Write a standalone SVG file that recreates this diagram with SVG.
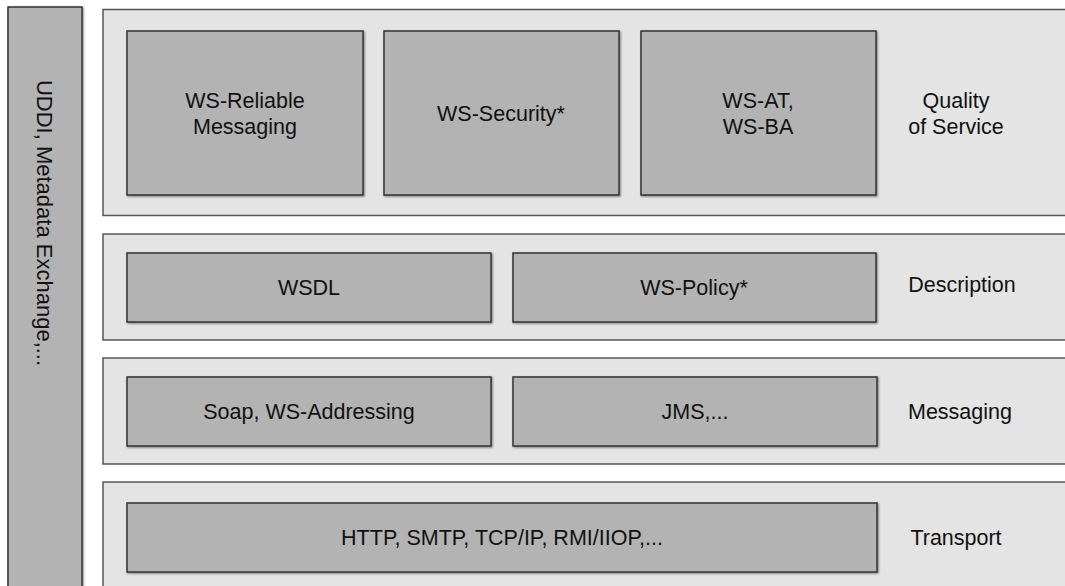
<svg xmlns="http://www.w3.org/2000/svg" width="1065" height="586" viewBox="0 0 1065 586">
<defs>
<filter id="sh" x="-5%" y="-5%" width="110%" height="110%">
<feDropShadow dx="1" dy="1" stdDeviation="0.8" flood-color="#000" flood-opacity="0.45"/>
</filter>
<style>
.panel{fill:#e3e4e3;stroke:#555;stroke-width:1.5}
.box{fill:#b3b3b3;stroke:#333;stroke-width:1.5;filter:url(#sh)}
.t{font-family:"Liberation Sans",Arial,sans-serif;font-size:21.5px;fill:#111;text-anchor:middle}
</style>
</defs>
<rect width="1065" height="586" fill="#fff"/>
<g id="uddi">
<rect class="box" x="8" y="7" width="74" height="600"/>
<text class="t" style="font-size:22px" transform="translate(37,223) rotate(90)">UDDI, Metadata Exchange,...</text>
</g>
<g id="layer-qos">
<rect class="panel" x="103" y="9.5" width="980" height="206"/>
<text class="t" x="956" y="108">Quality</text>
<text class="t" x="956" y="134">of Service</text>
</g>
<g id="ws-rm">
<rect class="box" x="127" y="31" width="236" height="164"/>
<text class="t" x="245" y="108">WS-Reliable</text>
<text class="t" x="245" y="134">Messaging</text>
</g>
<g id="ws-security">
<rect class="box" x="384" y="31" width="235" height="164"/>
<text class="t" x="501" y="121">WS-Security*</text>
</g>
<g id="ws-at">
<rect class="box" x="641" y="31" width="235" height="164"/>
<text class="t" x="758" y="108">WS-AT,</text>
<text class="t" x="758" y="134">WS-BA</text>
</g>
<g id="layer-description">
<rect class="panel" x="103" y="234" width="980" height="106"/>
<text class="t" x="962" y="292">Description</text>
</g>
<g id="wsdl">
<rect class="box" x="127" y="253" width="364" height="69"/>
<text class="t" x="309" y="295">WSDL</text>
</g>
<g id="ws-policy">
<rect class="box" x="513" y="253" width="363" height="69"/>
<text class="t" x="694" y="295">WS-Policy*</text>
</g>
<g id="layer-messaging">
<rect class="panel" x="103" y="358" width="980" height="106"/>
<text class="t" x="960" y="419">Messaging</text>
</g>
<g id="soap">
<rect class="box" x="127" y="377" width="364" height="69"/>
<text class="t" x="309" y="419">Soap, WS-Addressing</text>
</g>
<g id="jms">
<rect class="box" x="513" y="377" width="364" height="69"/>
<text class="t" x="695" y="419">JMS,...</text>
</g>
<g id="layer-transport">
<rect class="panel" x="103" y="482" width="980" height="110"/>
<text class="t" x="956" y="545">Transport</text>
</g>
<g id="http">
<rect class="box" x="127" y="503" width="750" height="69"/>
<text class="t" x="502" y="545">HTTP, SMTP, TCP/IP, RMI/IIOP,...</text>
</g>
<g id="connectors"></g>
</svg>
